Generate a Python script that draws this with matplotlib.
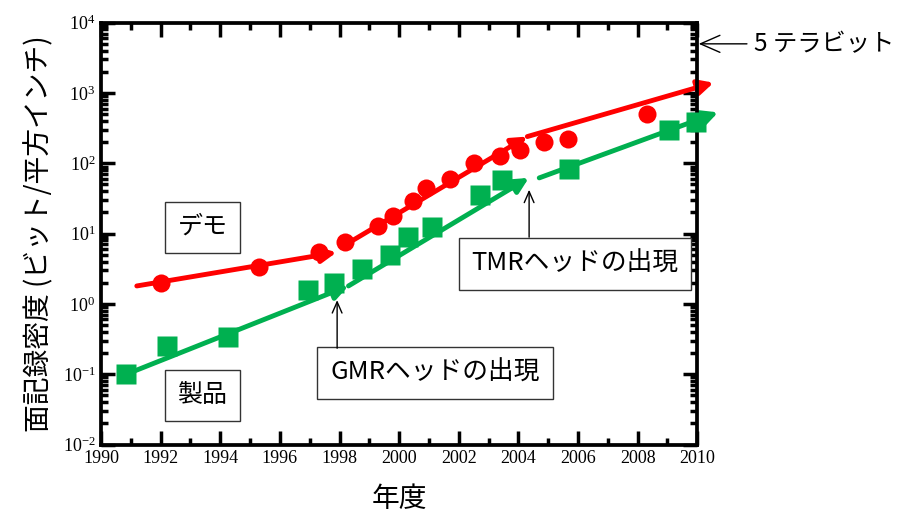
import matplotlib
matplotlib.use("Agg")
import matplotlib.pyplot as plt
from matplotlib.ticker import LogLocator, MultipleLocator, LogFormatterMathtext, NullFormatter, FuncFormatter

plt.rcParams['font.family'] = ['Noto Sans CJK JP', 'DejaVu Sans']
plt.rcParams['mathtext.fontset'] = 'stix'

## Data (Gbit / sq inch)
demo_year = [1992.0, 1995.3, 1997.3, 1998.2, 1999.3, 1999.8, 2000.45, 2000.9,
             2001.7, 2002.5, 2003.4, 2004.05, 2004.85, 2005.65, 2008.3]
demo_val = [2.0, 3.3, 5.5, 7.5, 13, 18, 29, 45, 60, 100, 127, 155, 203, 225, 510]

prod_year = [1990.85, 1992.2, 1994.25, 1996.95, 1997.8, 1998.75, 1999.7, 2000.3,
             2001.1, 2002.7, 2003.45, 2005.7, 2009.05, 2009.95]
prod_val = [0.1, 0.25, 0.335, 1.6, 1.96, 3.1, 4.9, 9.0, 12.5, 35, 57, 82, 295, 390]

# trend arrows: (x0, y0, x1, y1)
demo_trend = [(1991.2, 1.8, 1997.9, 5.4), (1998.4, 7.8, 2004.3, 240), (2004.3, 240, 2010.55, 1400)]
prod_trend = [(1990.85, 0.1, 1998.3, 1.8), (1998.3, 1.8, 2004.35, 62), (2004.7, 62, 2010.7, 530)]

fig = plt.figure(figsize=(9.02, 5.13), dpi=100)
ax = fig.add_axes([0.112, 0.1335, 0.661, 0.8223])
ax.set_yscale('log')
ax.set_xlim(1990, 2010)
ax.set_ylim(1e-2, 1e4)

red = '#ff0000'
green = '#00b050'

for x0, y0, x1, y1 in demo_trend:
    ax.annotate('', xy=(x1, y1), xytext=(x0, y0), annotation_clip=False,
                arrowprops=dict(arrowstyle='-|>,head_length=0.9,head_width=0.45', color=red, lw=3.5,
                                shrinkA=0, shrinkB=0), zorder=2)
for x0, y0, x1, y1 in prod_trend:
    ax.annotate('', xy=(x1, y1), xytext=(x0, y0), annotation_clip=False,
                arrowprops=dict(arrowstyle='-|>,head_length=0.9,head_width=0.45', color=green, lw=3.5,
                                shrinkA=0, shrinkB=0), zorder=2)

ax.plot(demo_year, demo_val, 'o', color=red, ms=13, mec='none', zorder=3, clip_on=False)
ax.plot(prod_year, prod_val, 's', color=green, ms=14, mec='none', zorder=3, clip_on=False)

# ticks
ax.xaxis.set_major_locator(MultipleLocator(2))
ax.xaxis.set_minor_locator(MultipleLocator(1))
ax.xaxis.set_major_formatter(FuncFormatter(lambda v, p: '%d' % v))
ax.yaxis.set_major_locator(LogLocator(base=10, numticks=10))
ax.yaxis.set_minor_locator(LogLocator(base=10, subs=range(2, 10), numticks=20))
ax.yaxis.set_major_formatter(LogFormatterMathtext())
ax.yaxis.set_minor_formatter(NullFormatter())
ax.tick_params(which='both', direction='in', top=True, right=True, width=2.5)
ax.tick_params(which='major', length=10, labelsize=13, pad=4, labelfontfamily='Liberation Serif')
ax.tick_params(which='minor', length=5)
for s in ax.spines.values():
    s.set_linewidth(2.7)

ax.set_xlabel('年度', fontsize=20, labelpad=12)
ax.set_ylabel('面記録密度 (ビット/平方インチ)', fontsize=20, labelpad=6)

box = dict(boxstyle='square,pad=0.5', fc='white', ec='#333333', lw=1)
ax.text(1993.4, 12.4, 'デモ', fontsize=18, ha='center', va='center', bbox=box)
ax.text(1993.4, 0.05, '製品', fontsize=18, ha='center', va='center', bbox=box)
ax.text(2001.2, 0.105, 'GMRヘッドの出現', fontsize=18.5, ha='center', va='center', bbox=box)
ax.text(2005.9, 3.7, 'TMRヘッドの出現', fontsize=18.5, ha='center', va='center', bbox=box)

ax.annotate('', xy=(1997.92, 1.13), xytext=(1997.92, 0.234),
            arrowprops=dict(arrowstyle='->,head_length=0.8,head_width=0.35', color='black', lw=1,
                            shrinkA=0, shrinkB=0))
ax.annotate('', xy=(2004.36, 42), xytext=(2004.36, 8.9),
            arrowprops=dict(arrowstyle='->,head_length=0.8,head_width=0.35', color='black', lw=1,
                            shrinkA=0, shrinkB=0))
ax.annotate('5 テラビット', xy=(2010.05, 5000), xytext=(2011.9, 5000), annotation_clip=False,
            fontsize=17.5, va='center', ha='left',
            arrowprops=dict(arrowstyle='->,head_length=0.8,head_width=0.35', color='black', lw=1,
                            shrinkA=3, shrinkB=0))

fig.savefig('out.png', dpi=100)
